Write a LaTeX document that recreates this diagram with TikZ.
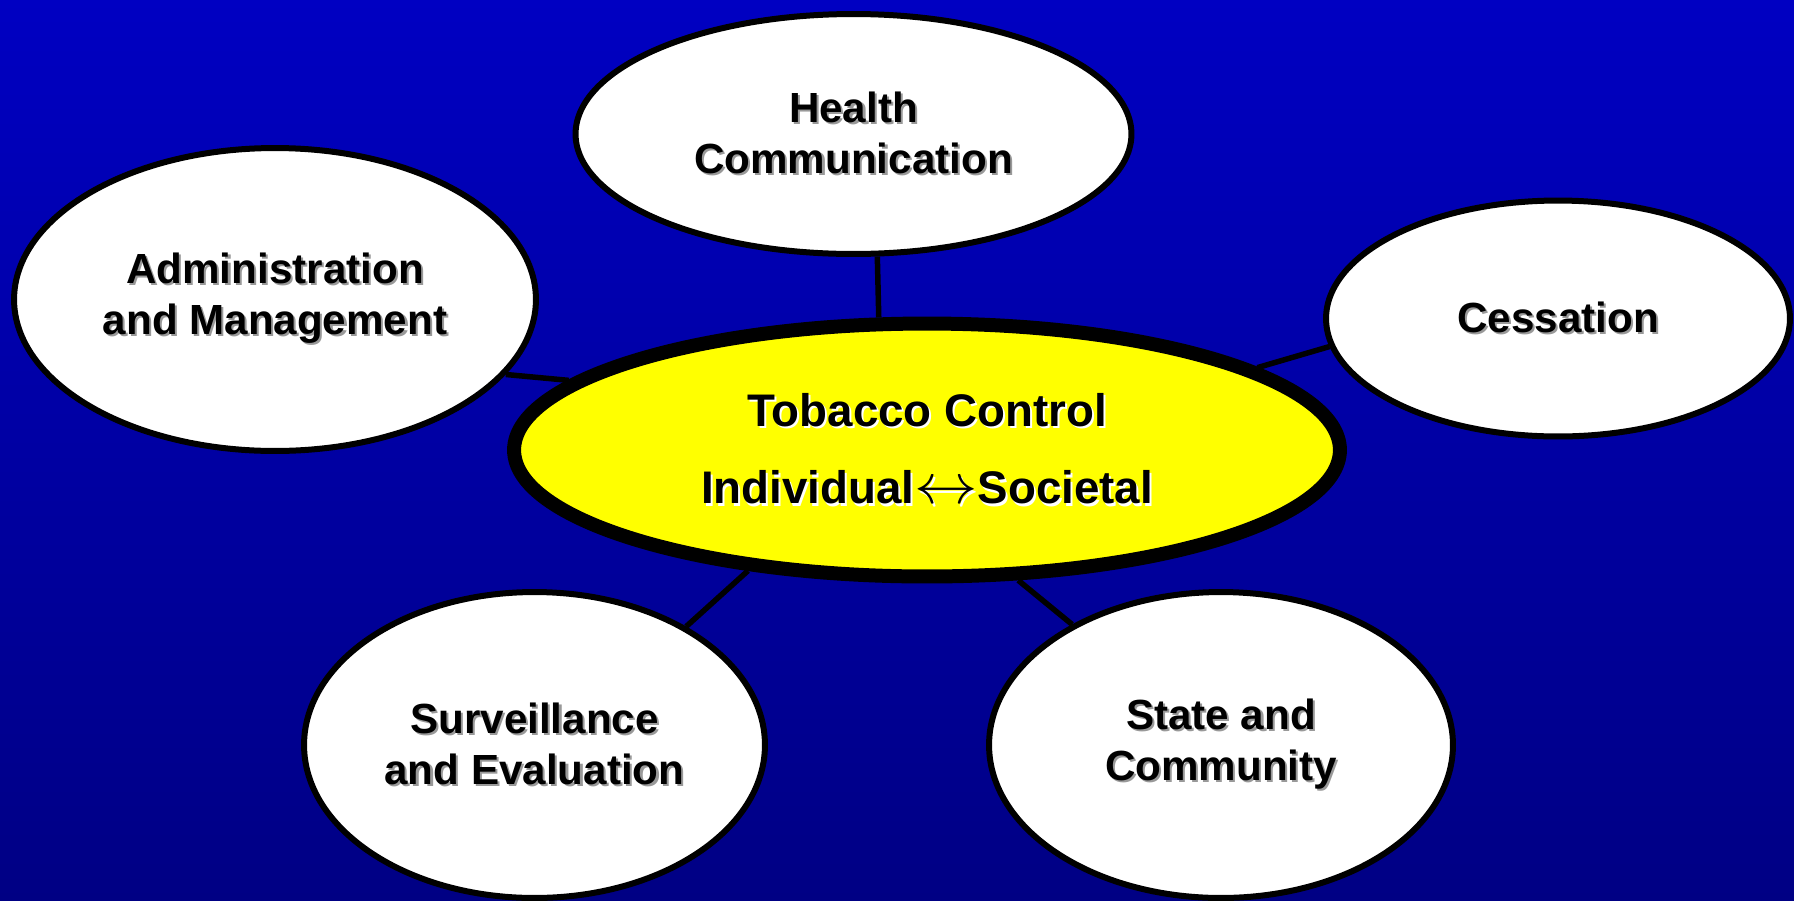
\documentclass[tikz,border=0pt]{standalone}
\usepackage{xcolor}
\usepackage{fontspec}
\usepackage{graphicx}
\usepackage{tikz}
\usetikzlibrary{shapes.geometric}
\setmainfont{Liberation Sans}

\definecolor{bgtop}{RGB}{0,0,194}
\definecolor{bgbot}{RGB}{0,0,132}
\definecolor{coreyellow}{RGB}{255,255,0}

% text with a small drop shadow
\newcommand\shd[2]{\leavevmode\rlap{\hspace{1.2pt}\raisebox{-1.2pt}{\textcolor{#1}{#2}}}#2}
\newcommand\twoway{\scalebox{1.45}[1.3]{$\leftrightarrow$}}

\begin{document}
\begin{tikzpicture}[
  x=0.02cm, y=-0.02cm,
  bubble/.style={draw, ellipse, fill=white, line width=0.12cm, inner sep=0pt, align=center,
    font=\bfseries\fontsize{24}{29}\selectfont},
  core/.style={draw, ellipse, fill=coreyellow, line width=0.28cm, inner sep=0pt, align=center,
    font=\bfseries\fontsize{26}{44}\selectfont},
  link/.style={line width=0.11cm}
]

\shade[top color=bgtop, bottom color=bgbot] (0,0) rectangle (1794,900);
\useasboundingbox (0,0) rectangle (1794,900);

\node[core, minimum width=16.52cm, minimum height=5.06cm] (tc) at (927,450)
  {\shd{white}{Tobacco Control}\\\shd{white}{Individual\twoway Societal}};

\node[bubble, minimum width=11.12cm, minimum height=4.8cm] (hc) at (853.5,134)
  {\shd{black!40}{Health}\\\shd{black!40}{Communication}};
\node[bubble, minimum width=10.44cm, minimum height=6.06cm] (am) at (275,299.5)
  {\shd{black!40}{Administration}\\\shd{black!40}{and Management}};
\node[bubble, minimum width=9.28cm, minimum height=4.72cm] (ce) at (1558,318.5)
  {\shd{black!40}{Cessation}};
\node[bubble, minimum width=9.22cm, minimum height=6.12cm] (se) at (534.5,745)
  {\shd{black!40}{Surveillance}\\\shd{black!40}{and Evaluation}};
\node[bubble, minimum width=9.28cm, minimum height=6.12cm] (sc) at (1221,745)
  {\shd{black!40}{State and}\\\shd{black!40}{Community}};

% Links
\draw[link] (hc.281.7) -- (tc.110);
\draw[link] (am.342.9) -- (tc.169.5);
\draw[link] (ce.187) -- (tc.14.5);
\draw[link] (se.38.1) -- (tc.214.5);
\draw[link] (sc.141.8) -- (tc.305.5);

\end{tikzpicture}
\end{document}
